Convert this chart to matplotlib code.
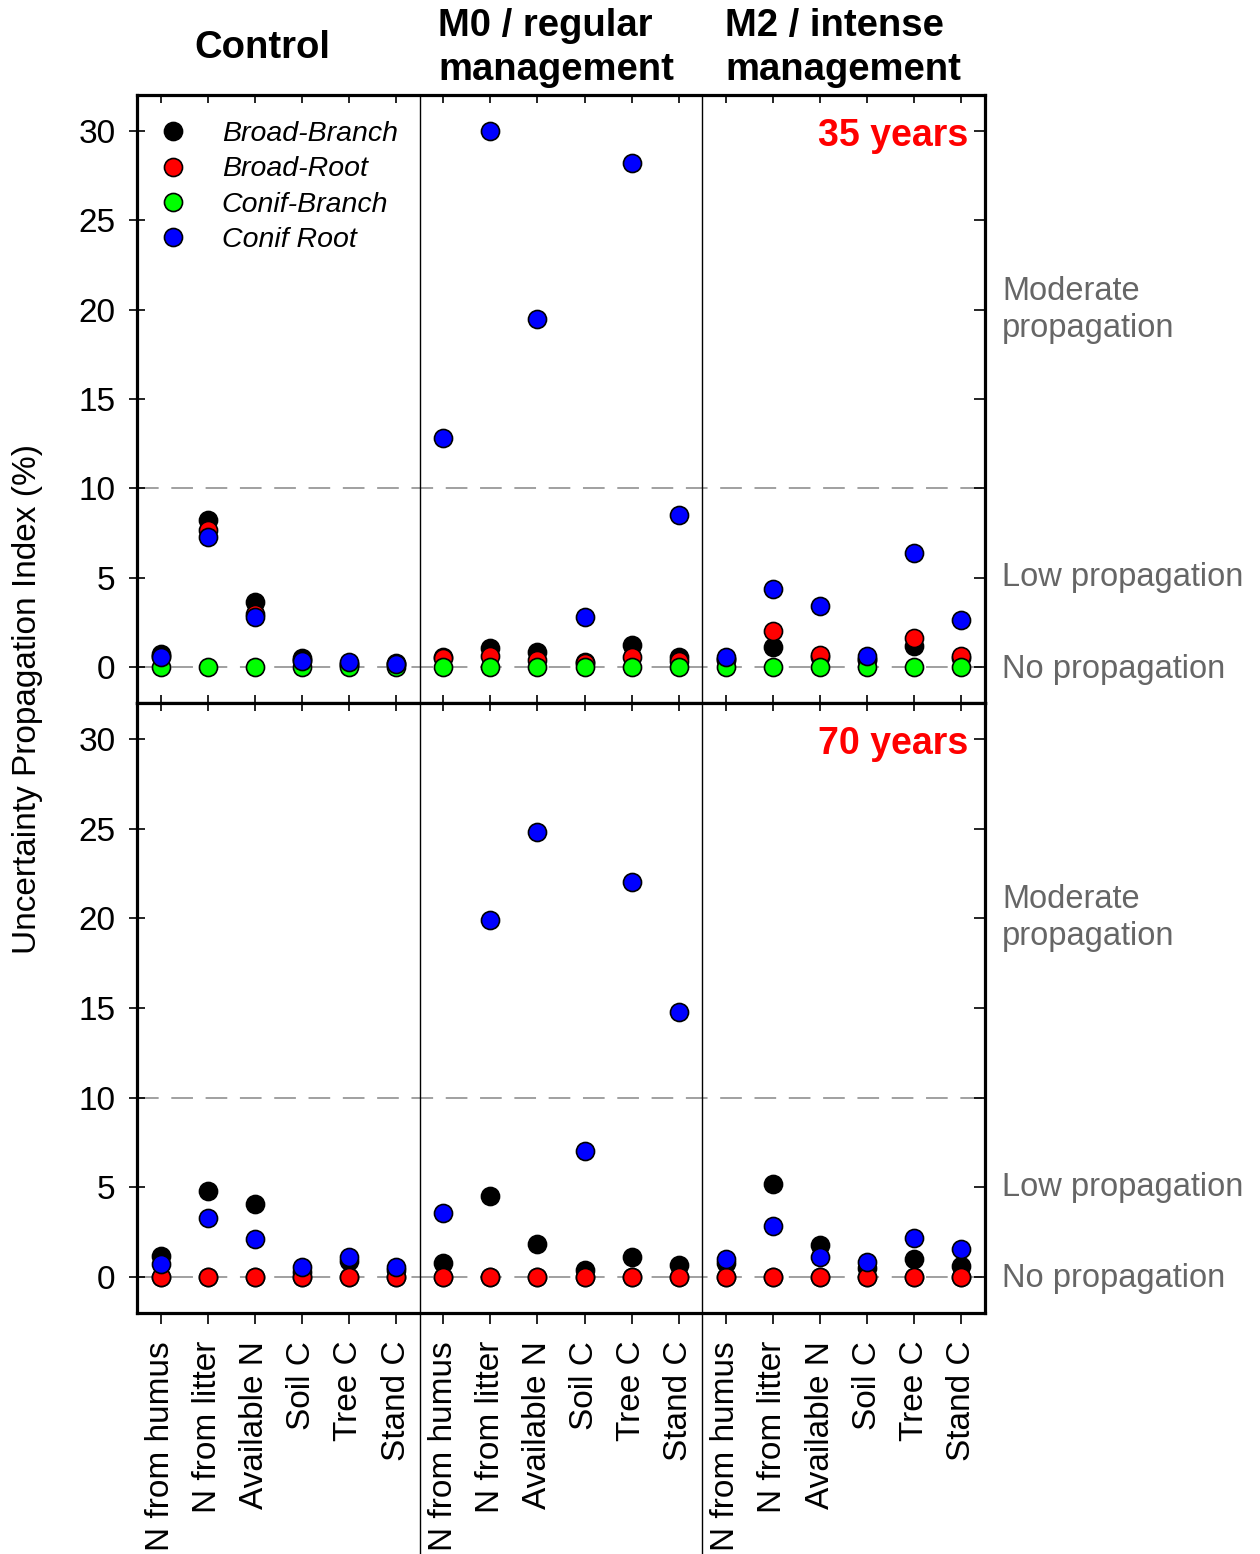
import matplotlib
matplotlib.use("Agg")
import matplotlib.pyplot as plt
import matplotlib.transforms as mtransforms
from matplotlib.lines import Line2D
import numpy as np

plt.rcParams['font.family'] = ['Liberation Sans', 'DejaVu Sans']

# x categories, repeated for the three management groups
variables = ["N from humus", "N from litter", "Available N", "Soil C", "Tree C", "Stand C"]
groups = ["Control", "M0 / regular\nmanagement", "M2 / intense\nmanagement"]
series = ["Broad-Branch", "Broad-Root", "Conif-Branch", "Conif Root"]
colors = ["#000000", "#ff0000", "#00ff00", "#0000ff"]

# 35 years: Control (6), M0 (6), M2 (6)
y35_broad_branch = [0.75, 8.25, 3.65, 0.5, 0.1, 0.25,
                    0.55, 1.1, 0.85, 0.3, 1.25, 0.6,
                    0.45, 1.15, 0.6, 0.45, 1.2, 0.5]
y35_broad_root = [0.65, 7.7, 3.0, 0.4, 0.2, 0.2,
                  0.5, 0.65, 0.4, 0.25, 0.6, 0.35,
                  0.4, 2.0, 0.7, 0.4, 1.65, 0.65]
y35_conif_branch = [0.0] * 18
y35_conif_root = [0.6, 7.3, 2.8, 0.35, 0.3, 0.2,
                  12.8, 30.0, 19.5, 2.8, 28.2, 8.5,
                  0.6, 4.4, 3.45, 0.65, 6.4, 2.65]

# 70 years
y70_broad_branch = [1.2, 4.8, 4.05, 0.3, 0.9, 0.4,
                    0.8, 4.5, 1.85, 0.4, 1.1, 0.7,
                    0.8, 5.2, 1.8, 0.5, 1.0, 0.6]
y70_broad_root = [0.0] * 18
y70_conif_branch = [0.0] * 18
y70_conif_root = [0.75, 3.3, 2.1, 0.55, 1.1, 0.55,
                  3.55, 19.9, 24.8, 7.05, 22.0, 14.75,
                  1.0, 2.85, 1.1, 0.85, 2.2, 1.55]

panels = [
    ("35 years", [y35_broad_branch, y35_broad_root, y35_conif_branch, y35_conif_root], [0, 1, 2, 3]),
    ("70 years", [y70_broad_branch, y70_broad_root, y70_conif_branch, y70_conif_root], [0, 2, 1, 3]),
]

x = np.arange(1, 19)
xlabels = variables * 3

fig = plt.figure(figsize=(12.6, 15.54), dpi=100)
ax_top = fig.add_axes([0.1087, 0.5476, 0.673, 0.3913])
ax_bot = fig.add_axes([0.1087, 0.1551, 0.673, 0.3925])
axes = [ax_top, ax_bot]

gray = "#999999"
for i, (ax, (title, vals, order)) in enumerate(zip(axes, panels)):
    ax.axhline(10, color=gray, lw=1.3, dashes=(12, 7), zorder=1)
    ax.axhline(0, color=gray, lw=1.3, dashes=(12, 7), zorder=1)
    for k in order:
        ax.plot(x, vals[k], "o", ms=13, mfc=colors[k], mec="black", mew=1.2,
                zorder=3 + order.index(k), clip_on=False)
    ax.set_xlim(0.5, 18.5)
    ax.set_ylim(-2, 32)
    ax.set_yticks([0, 5, 10, 15, 20, 25, 30])
    ax.set_xticks(x)
    for s in ax.spines.values():
        s.set_linewidth(2.3)
    ax.tick_params(axis="y", which="both", direction="inout", length=11, width=1.2,
                   labelsize=24, pad=10)
    ax.text(0.98, 29.7, title, transform=mtransforms.blended_transform_factory(ax.transAxes, ax.transData),
            ha="right", va="center", color="#ff0000", fontsize=27, fontweight="bold")
    ytr = ax.get_yaxis_transform()
    ax.text(1.02, 20, "Moderate\npropagation", transform=ytr, ha="left", va="center",
            color="#666666", fontsize=23.5, linespacing=1.25, clip_on=False)
    ax.text(1.02, 5, "Low propagation", transform=ytr, ha="left", va="center",
            color="#666666", fontsize=23.5, clip_on=False)
    ax.text(1.02, -0.1, "No propagation", transform=ytr, ha="left", va="center",
            color="#666666", fontsize=23.5, clip_on=False)

# tick directions: inward except the outer bottom
ax_top.tick_params(axis="x", which="both", direction="in", length=6, width=1.2,
                   top=True, bottom=True, labelbottom=False)
ax_bot.tick_params(axis="x", which="both", direction="in", length=6, width=1.2,
                   top=True, bottom=False, labelbottom=False)
for ax in axes:
    ax.tick_params(axis="y", which="both", direction="inout", left=True, right=False)
    for yv in ax.get_yticks():
        ax.plot([1.0], [yv], marker=0, ms=8, mew=1.2, color="black",
                transform=ax.get_yaxis_transform(), clip_on=False)

# outward bottom ticks with rotated labels
ax_bot.tick_params(axis="x", which="both", direction="out", length=8, width=1.2,
                   bottom=True, labelbottom=True, labelsize=24, pad=12)
ax_bot.set_xticks(x)
ax_bot.set_xticklabels(xlabels, rotation=90, va="top")
ax_bot.tick_params(axis="x", top=False)
# inward ticks on the top edge of the lower panel
for xv in x:
    ax_bot.plot([xv], [1.0], marker=3, ms=6, mew=1.2, color="black",
                transform=ax_bot.get_xaxis_transform(), clip_on=False)

# group dividers from top of upper panel to the bottom of the figure
trans = mtransforms.blended_transform_factory(ax_top.transData, fig.transFigure)
for xd in [6.5, 12.5]:
    fig.add_artist(Line2D([xd, xd], [0.0, 0.9389], transform=trans, color="black", lw=1.0))

# group headers
htr = mtransforms.blended_transform_factory(ax_top.transData, fig.transFigure)
fig.text(3.17, 0.969, groups[0], transform=htr, ha="center", va="center",
         fontsize=27.5, fontweight="bold")
fig.text(6.89, 0.969, groups[1], transform=htr, ha="left", va="center",
         fontsize=27.5, fontweight="bold", linespacing=1.3)
fig.text(12.98, 0.969, groups[2], transform=htr, ha="left", va="center",
         fontsize=27.5, fontweight="bold", linespacing=1.3)

# legend
handles = [Line2D([], [], ls="none", marker="o", ms=13, mfc=c, mec="black", mew=1.2) for c in colors]
leg = ax_top.legend(handles, series, loc="upper left", bbox_to_anchor=(0.026, 0.957),
                    frameon=False, borderpad=0, borderaxespad=0, handlelength=1.0,
                    handletextpad=1.2, labelspacing=0.33, prop={"size": 20.5, "style": "italic"})
leg.set_zorder(10)

fig.text(0.022, 0.55, "Uncertainty Propagation Index (%)", rotation=90, ha="center", va="center",
         fontsize=24)

fig.savefig("out.png", dpi=100)
